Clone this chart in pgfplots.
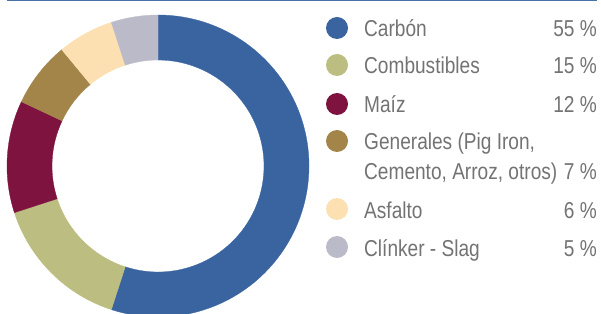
\documentclass[border=0pt]{standalone}
\usepackage{pgfplots}
\pgfplotsset{compat=1.18}
\usepackage{pgfplotstable}
\usepackage{fontspec}
\setmainfont[FakeStretch=0.83]{Liberation Sans}
\definecolor{slice0}{HTML}{3A64A0}
\definecolor{slice1}{HTML}{BCBD80}
\definecolor{slice2}{HTML}{7F1340}
\definecolor{slice3}{HTML}{A3854A}
\definecolor{slice4}{HTML}{FCE0B2}
\definecolor{slice5}{HTML}{BBBAC8}
\definecolor{topline}{HTML}{4A70A8}
\definecolor{txt}{HTML}{737373}
\pgfplotstableread{
label value
Carbon 55
Combustibles 15
Maiz 12
Generales 7
Asfalto 6
Clinker 5
}\datatable
\begin{document}
\begin{tikzpicture}
\begin{axis}[
  at={(0,0)}, anchor=south west,
  scale only axis, width=601pt, height=313pt,
  xmin=0, xmax=601, ymin=0, ymax=313,
  hide axis, clip=true,
]
\def\acc{90}
\pgfplotsforeachungrouped \i in {0,...,5}{%
  \pgfplotstablegetelem{\i}{value}\of\datatable
  \pgfmathsetmacro{\sa}{\acc}%
  \pgfmathsetmacro{\ea}{\acc-3.6*\pgfplotsretval}%
  \edef\temp{\noexpand\fill[fill=slice\i, draw=slice\i, line width=0.3pt]
    ([shift={(\sa:151pt)}]axis cs:158,147) arc[start angle=\sa, end angle=\ea, radius=151pt]
    -- ([shift={(\ea:106pt)}]axis cs:158,147) arc[start angle=\ea, end angle=\sa, radius=106pt] -- cycle;}%
  \temp
  \global\let\acc\ea
}
\draw[topline, line width=1.4pt] (axis cs:7,312.4) -- (axis cs:597,312.4);
\end{axis}
\begin{scope}[every node/.style={font=\fontsize{23}{27}\selectfont, text=txt, inner sep=0pt}]
  % legend (y measured from top: Y = 313 - y)
  \fill[slice0] (337pt,{(313-28)*1pt}) circle (11pt);
  \node[anchor=base west] at (364pt,{(313-37)*1pt}) {Carbón};
  \node[anchor=base east] at (597pt,{(313-37)*1pt}) {55 \%};
  \fill[slice1] (337pt,{(313-65)*1pt}) circle (11pt);
  \node[anchor=base west] at (364pt,{(313-74)*1pt}) {Combustibles};
  \node[anchor=base east] at (597pt,{(313-74)*1pt}) {15 \%};
  \fill[slice2] (337pt,{(313-104)*1pt}) circle (11pt);
  \node[anchor=base west] at (364pt,{(313-113)*1pt}) {Maíz};
  \node[anchor=base east] at (597pt,{(313-113)*1pt}) {12 \%};
  \fill[slice3] (337pt,{(313-141)*1pt}) circle (11pt);
  \node[anchor=base west] at (364pt,{(313-150)*1pt}) {Generales (Pig Iron,};
  \node[anchor=base west] at (364pt,{(313-180)*1pt}) {Cemento, Arroz, otros)};
  \node[anchor=base east] at (597pt,{(313-180)*1pt}) {7 \%};
  \fill[slice4] (337pt,{(313-209)*1pt}) circle (11pt);
  \node[anchor=base west] at (364pt,{(313-218)*1pt}) {Asfalto};
  \node[anchor=base east] at (597pt,{(313-218)*1pt}) {6 \%};
  \fill[slice5] (337pt,{(313-247)*1pt}) circle (11pt);
  \node[anchor=base west] at (364pt,{(313-256)*1pt}) {Clínker - Slag};
  \node[anchor=base east] at (597pt,{(313-256)*1pt}) {5 \%};
\end{scope}
\pgfresetboundingbox
\path[use as bounding box] (0,0) rectangle (601pt,313pt);
\end{tikzpicture}
\end{document}
